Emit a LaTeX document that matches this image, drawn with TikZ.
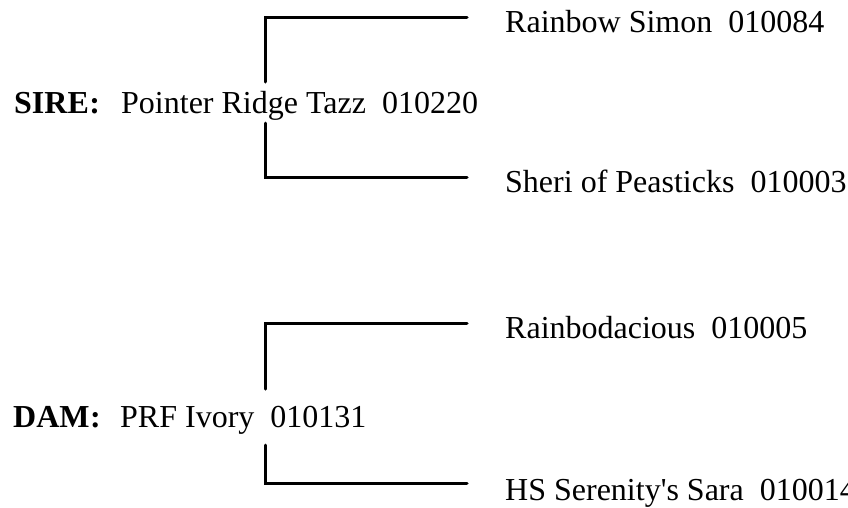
\documentclass[tikz,border=0pt]{standalone}
\usepackage{fontspec}
\setmainfont{Liberation Serif}[Ligatures=TeXOff]
\newcommand{\gp}{\hspace{0.5em}}
\begin{document}
\begin{tikzpicture}[x=1pt,y=-1pt,
  lbl/.style={anchor=base west,inner sep=0pt,font=\fontsize{32}{38}\selectfont},
  bold/.style={lbl,font=\fontsize{32}{38}\selectfont\bfseries},
  br/.style={line width=3pt,line cap=round,line join=miter}]
\useasboundingbox (0,0) rectangle (848,507);
% sire
\node[bold] (sirel) at (14,113) {SIRE\kern0.5pt:};
\node[lbl] (sire) at (121,113) {Pointer Ridge Tazz\gp010220};
\node[lbl] (s1) at (505,32) {Rainbow Simon\gp010084};
\node[lbl] (s2) at (505,192) {Sheri of Peasticks\gp010003};
\coordinate (sa) at (265,82);
\coordinate (sb) at (265,123);
\coordinate (sc) at (467,17);
\coordinate (sd) at (467,177);
\draw[br] (sa) |- (sc);
\draw[br] (sb) |- (sd);
% dam
\node[bold] (daml) at (13,427) {DAM\kern0.5pt:};
\node[lbl] (dam) at (120,427) {PRF Ivory\gp010131};
\node[lbl] (d1) at (505,338) {Rainbodacious\gp010005};
\node[lbl] (d2) at (505,500) {HS Serenity's Sara\gp010014};
\coordinate (da) at (265,389);
\coordinate (db) at (265,445);
\coordinate (dc) at (467,323);
\coordinate (dd) at (467,483);
\draw[br] (da) |- (dc);
\draw[br] (db) |- (dd);
\end{tikzpicture}
\end{document}
